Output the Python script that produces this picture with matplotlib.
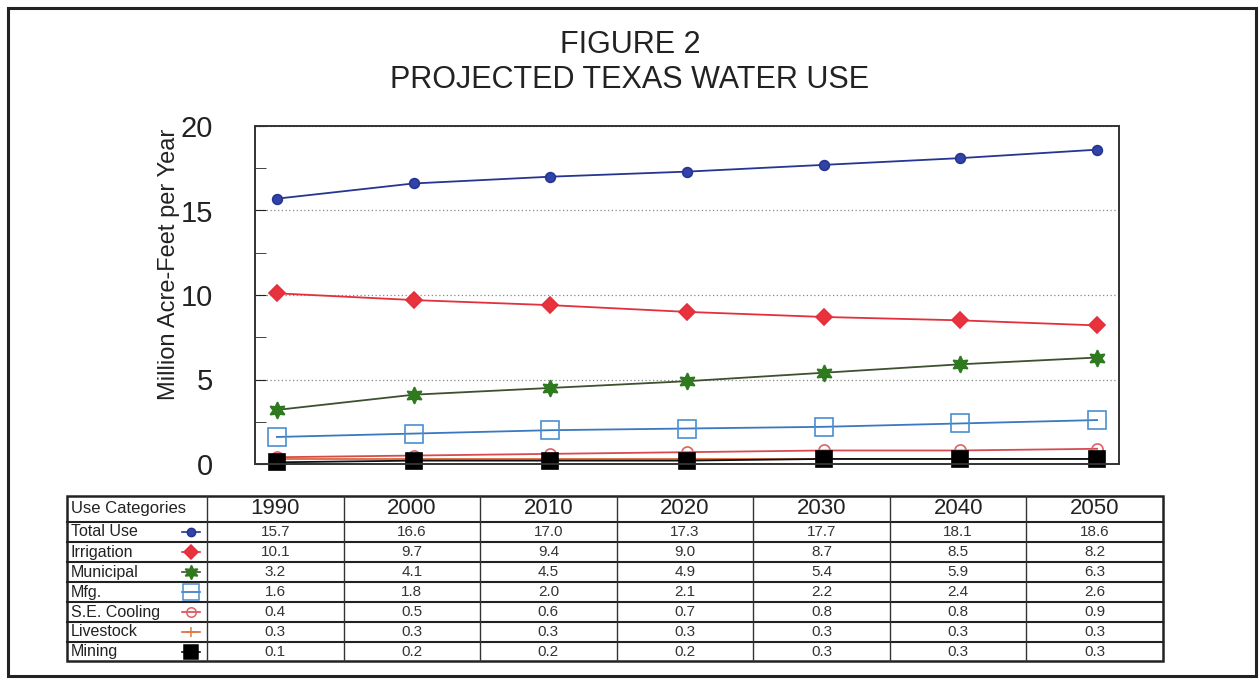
import matplotlib.pyplot as plt
import numpy as np
from matplotlib.patches import Rectangle

years = ["1990", "2000", "2010", "2020", "2030", "2040", "2050"]
categories = ["Total Use", "Irrigation", "Municipal", "Mfg.", "S.E. Cooling", "Livestock", "Mining"]
total_use = [15.7, 16.6, 17.0, 17.3, 17.7, 18.1, 18.6]
irrigation = [10.1, 9.7, 9.4, 9.0, 8.7, 8.5, 8.2]
municipal = [3.2, 4.1, 4.5, 4.9, 5.4, 5.9, 6.3]
mfg = [1.6, 1.8, 2.0, 2.1, 2.2, 2.4, 2.6]
se_cooling = [0.4, 0.5, 0.6, 0.7, 0.8, 0.8, 0.9]
livestock = [0.3, 0.3, 0.3, 0.3, 0.3, 0.3, 0.3]
mining = [0.1, 0.2, 0.2, 0.2, 0.3, 0.3, 0.3]

series = [total_use, irrigation, municipal, mfg, se_cooling, livestock, mining]
# (line colour, marker, marker face, marker edge, marker size)
styles = [
    ("#26358f", "o", "#3043a8", "#26358f", 7),
    ("#e3303c", "D", "#e8323c", "#e3303c", 8),
    ("#3f4f30", (6, 1, 0), "#2f7a1e", "#2f7a1e", 12),
    ("#3a78c0", "s", "none", "#4a8fd0", 13),
    ("#d84a50", "o", "none", "#e06068", 8),
    ("#d86a3a", "+", "none", "#e07a40", 8),
    ("#111111", "s", "#000000", "#000000", 12),
]

W, H = 1260, 679
plt.rcParams['font.family'] = ['Liberation Sans', 'DejaVu Sans']
fig = plt.figure(figsize=(W / 100, H / 100), dpi=100)

# outer frame + overlay axes in pixel coordinates
over = fig.add_axes([0, 0, 1, 1])
over.set_xlim(0, W)
over.set_ylim(H, 0)
over.axis("off")
over.add_patch(Rectangle((8, 8), 1248, 668, fill=False, lw=2.2, ec="#222222"))

over.text(630, 45, "FIGURE 2", ha="center", va="center", fontsize=22, color="#222222")
over.text(630, 80, "PROJECTED TEXAS WATER USE", ha="center", va="center", fontsize=22, color="#222222")

# main plot
x0, x1, y0, y1 = 255, 1119, 126, 464
ax = fig.add_axes([x0 / W, 1 - y1 / H, (x1 - x0) / W, (y1 - y0) / H])
ax.set_zorder(2)
xs = np.arange(len(years))
for vals, (lc, mk, mf, me, ms) in zip(series, styles):
    ax.plot(xs, vals, color=lc, lw=1.3, marker=mk, markerfacecolor=mf,
            markeredgecolor=me, markersize=ms, markeredgewidth=1.2, clip_on=False)
ax.set_xlim(-0.16, 6.16)
ax.set_ylim(0, 20)
ax.set_xticks([])
ax.set_yticks([0, 5, 10, 15, 20])
ax.set_yticks([2.5, 7.5, 12.5, 17.5], minor=True)
ax.tick_params(axis="y", which="major", direction="in", length=8, labelsize=21, pad=30, colors="#222222")
ax.tick_params(axis="y", which="minor", direction="in", length=8, colors="#222222")
ax.grid(axis="y", which="major", linestyle=(0, (1, 2)), color="#888888", lw=0.9)
for s in ax.spines.values():
    s.set_color("#333333")
    s.set_linewidth(1.4)
ax.set_ylabel("Million Acre-Feet per Year", fontsize=17, color="#222222")
ax.yaxis.set_label_coords(-0.087, 0.59)

# data table below the plot
tx0, tx1 = 67, 1163
c0 = 207
cw = (tx1 - c0) / len(years)
row_y = [496, 522, 542, 562, 582, 602, 622, 642, 661]
over.add_patch(Rectangle((tx0, row_y[0]), tx1 - tx0, row_y[-1] - row_y[0], fill=False, lw=1.8, ec="#222222"))
for y in row_y[1:-1]:
    over.plot([tx0, tx1], [y, y], color="#222222", lw=1.5)
for i in range(len(years)):
    xv = c0 + i * cw
    over.plot([xv, xv], [row_y[0], row_y[-1]], color="#333333", lw=1.0)

over.text(tx0 + 4, (row_y[0] + row_y[1]) / 2, "Use Categories", ha="left", va="center", fontsize=12, color="#222222")
for i, yr in enumerate(years):
    over.text(c0 + (i + 0.5) * cw, (row_y[0] + row_y[1]) / 2, yr, ha="center", va="center", fontsize=16, color="#222222")

for r, (cat, vals, (lc, mk, mf, me, ms)) in enumerate(zip(categories, series, styles)):
    yc = (row_y[r + 1] + row_y[r + 2]) / 2
    over.text(tx0 + 4, yc, cat, ha="left", va="center", fontsize=11.5, color="#222222")
    over.plot([182, 200], [yc, yc], color=lc, lw=1.2)
    over.plot([191], [yc], marker=mk, markerfacecolor=mf, markeredgecolor=me,
              markersize=ms * 0.85, markeredgewidth=1.1, linestyle="none")
    for i, v in enumerate(vals):
        over.text(c0 + (i + 0.5) * cw, yc, f"{v:.1f}", ha="center", va="center", fontsize=11, color="#333333")

fig.savefig("out.png", dpi=100)
